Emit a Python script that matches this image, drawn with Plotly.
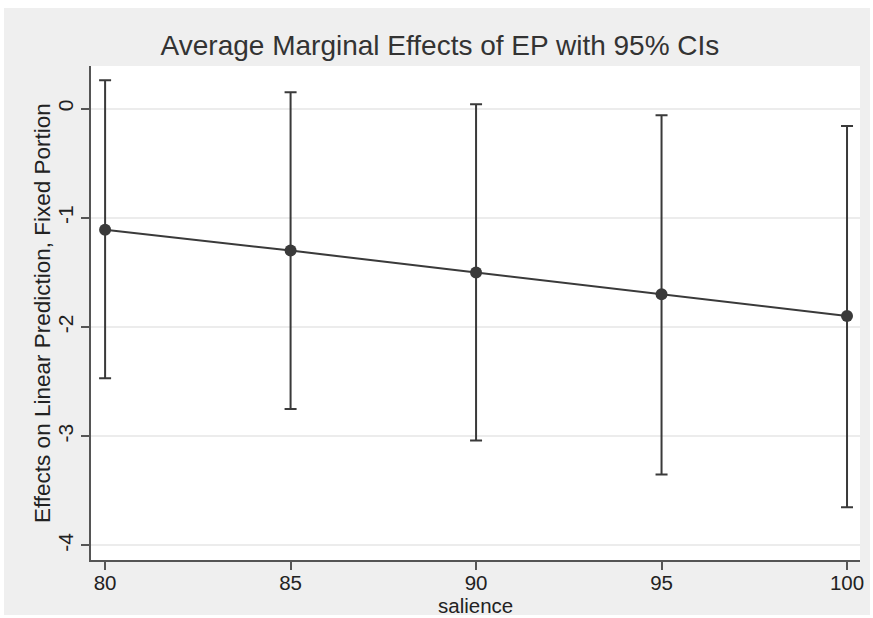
import plotly.graph_objects as go

salience = [80, 85, 90, 95, 100]
effect = [-1.11, -1.30, -1.50, -1.70, -1.90]
ci_upper = [0.26, 0.15, 0.04, -0.06, -0.16]
ci_lower = [-2.47, -2.75, -3.04, -3.35, -3.65]

x_ticks = [80, 85, 90, 95, 100]
y_ticks = [0, -1, -2, -3, -4]
y_tick_labels = ["0", "-1", "-2", "-3", "-4"]

err_plus = [u - e for u, e in zip(ci_upper, effect)]
err_minus = [e - l for e, l in zip(effect, ci_lower)]

DARK = "#3a3a3a"
GRAY_BG = "#efefef"
FONT = "Liberation Sans, Arial, sans-serif"

W, H = 873, 618
ML, MR, MT, MB = 91, 13, 66, 58
pw, ph = W - ML - MR, H - MT - MB

def px_x(p):
    return (p - ML) / pw

def px_y(p):
    return 1 - (p - MT) / ph

fig = go.Figure()
fig.add_trace(go.Scatter(
    x=salience, y=effect,
    mode="lines+markers",
    line=dict(color=DARK, width=2),
    marker=dict(color=DARK, size=12),
    error_y=dict(type="data", symmetric=False, array=err_plus, arrayminus=err_minus,
                 color=DARK, thickness=2, width=6),
    showlegend=False,
))

# white outer frame around the gray graph region
ox0, ox1 = px_x(-50), px_x(W + 50)
oy0, oy1 = px_y(H + 50), px_y(-50)
gx0, gx1 = px_x(4), px_x(870)
gy0, gy1 = px_y(615), px_y(8)
path = (f"M{ox0},{oy0} L{ox1},{oy0} L{ox1},{oy1} L{ox0},{oy1} Z "
        f"M{gx0},{gy0} L{gx1},{gy0} L{gx1},{gy1} L{gx0},{gy1} Z")
fig.add_shape(type="path", path=path, xref="paper", yref="paper",
              fillcolor="white", fillrule="evenodd", line=dict(width=0), layer="below")

# axis titles
fig.add_annotation(text="salience", xref="paper", yref="paper", x=0.5, y=px_y(618),
                   xanchor="center", yanchor="bottom", showarrow=False, borderpad=0,
                   font=dict(size=20.5, color="#222222"))
fig.add_annotation(text="Effects on Linear Prediction, Fixed Portion", xref="paper", yref="paper",
                   x=px_x(42), y=0.5, xanchor="center", yanchor="middle", textangle=-90,
                   showarrow=False, font=dict(size=22.5, color="#222222"))

fig.update_layout(
    width=W, height=H,
    margin=dict(l=ML, r=MR, t=MT, b=MB, autoexpand=False),
    paper_bgcolor=GRAY_BG,
    plot_bgcolor="white",
    font=dict(family=FONT, color="#222222"),
    title=dict(text="Average Marginal Effects of EP with 95% CIs",
               x=0.504, xanchor="center", y=1 - 45 / H, yanchor="middle",
               yref="container", font=dict(size=28, color="#333333")),
    xaxis=dict(
        range=[79.62, 100.35], tickvals=x_ticks, ticks="outside", ticklen=8,
        tickwidth=1.5, tickcolor="#555555", showline=True, linecolor="#555555",
        linewidth=2, showgrid=False, zeroline=False, automargin=False,
        tickfont=dict(size=20.5), ticklabelstandoff=-5,
    ),
    yaxis=dict(
        range=[-4.133, 0.39], tickvals=y_ticks, ticktext=y_tick_labels, ticks="outside", ticklen=8,
        tickwidth=1.5, tickcolor="#555555", showline=True, linecolor="#555555",
        linewidth=2, showgrid=True, gridcolor="#ececec", gridwidth=1.5, zeroline=False,
        tickangle=-90, tickfont=dict(size=21), automargin=False,
    ),
)

fig.write_html("out.html")
